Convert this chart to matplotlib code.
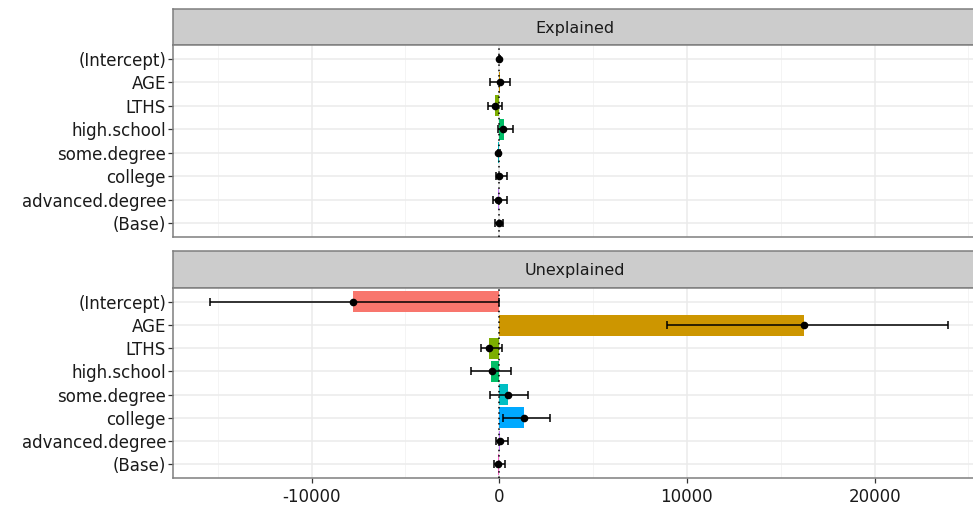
import numpy as np
import matplotlib.pyplot as plt

plt.rcParams['font.family'] = ['DejaVu Sans']
plt.rcParams['axes.unicode_minus'] = False

terms = ["(Intercept)", "AGE", "LTHS", "high.school", "some.degree",
         "college", "advanced.degree", "(Base)"]
colors = ["#F8766D", "#CD9600", "#7CAE00", "#00BE67", "#00BFC4",
          "#00A9FF", "#C77CFF", "#FF61CC"]

# explained part
expl_value = [0, 50, -200, 250, -50, 0, -50, 0]
expl_point = [0, 50, -200, 210, -50, 0, -50, 0]
expl_low = [-30, -480, -590, -50, -90, -160, -320, -210]
expl_high = [30, 590, 160, 750, 20, 430, 430, 210]

# unexplained part
unexp_value = [-7800, 16250, -530, -430, 480, 1340, 50, -50]
unexp_point = [-7800, 16250, -530, -370, 480, 1340, 50, -50]
unexp_low = [-15400, 8930, -960, -1500, -480, 200, -160, -270]
unexp_high = [0, 23900, 160, 640, 1550, 2730, 480, 320]

W, H = 973, 509
fig = plt.figure(figsize=(W / 100, H / 100), dpi=100)

xlim = (-17380, 25400)
FS = 12


def px(x0, y0, x1, y1):
    return [x0 / W, 1 - y1 / H, (x1 - x0) / W, (y1 - y0) / H]


def draw_panel(ax, strip, title, vals, pts, lo, hi, show_x):
    n = len(terms)
    ypos = np.arange(n)[::-1]
    ax.set_xlim(*xlim)
    ax.set_ylim(-0.6, n - 0.4)
    ax.set_xticks([-10000, 0, 10000, 20000])
    ax.set_xticks([-15000, -5000, 5000, 15000, 25000], minor=True)
    ax.set_yticks(ypos)
    ax.set_yticklabels(terms)
    ax.grid(which="major", color="#EBEBEB", lw=1.1, zorder=0)
    ax.grid(which="minor", axis="x", color="#F2F2F2", lw=0.6, zorder=0)
    ax.set_axisbelow(True)
    ax.barh(ypos, vals, height=0.9, color=colors, zorder=2)
    ax.axvline(0, color="black", ls=(0, (1, 2.5)), lw=1.1, zorder=3)
    xerr = [np.array(pts) - np.array(lo), np.array(hi) - np.array(pts)]
    ax.errorbar(pts, ypos, xerr=xerr, fmt="o", color="black", ms=4.5,
                elinewidth=1.1, capsize=2.6, capthick=1.1, zorder=4)
    for s in ax.spines.values():
        s.set_color("#7F7F7F")
        s.set_linewidth(1.1)
    ax.tick_params(axis="both", which="major", length=3.5, color="#333333",
                   labelsize=FS, labelcolor="#1A1A1A", width=0.9, pad=1.5)
    ax.tick_params(axis="x", which="major", pad=4)
    ax.tick_params(axis="x", which="minor", length=0)
    if not show_x:
        ax.tick_params(axis="x", which="major", length=0, labelbottom=False)
    strip.set_facecolor("#CCCCCC")
    strip.set_xticks([])
    strip.set_yticks([])
    for s in strip.spines.values():
        s.set_color("#7F7F7F")
        s.set_linewidth(1.1)
    strip.text(0.5, 0.47, title, ha="center", va="center", fontsize=FS - 0.5,
               color="#1A1A1A", transform=strip.transAxes)


strip1 = fig.add_axes(px(173, 9, 976, 45))
ax1 = fig.add_axes(px(173, 45, 976, 237))
strip2 = fig.add_axes(px(173, 251, 976, 288))
ax2 = fig.add_axes(px(173, 288, 976, 478))

draw_panel(ax1, strip1, "Explained", expl_value, expl_point, expl_low,
           expl_high, False)
draw_panel(ax2, strip2, "Unexplained", unexp_value, unexp_point, unexp_low,
           unexp_high, True)

fig.savefig("out.png", dpi=100)
